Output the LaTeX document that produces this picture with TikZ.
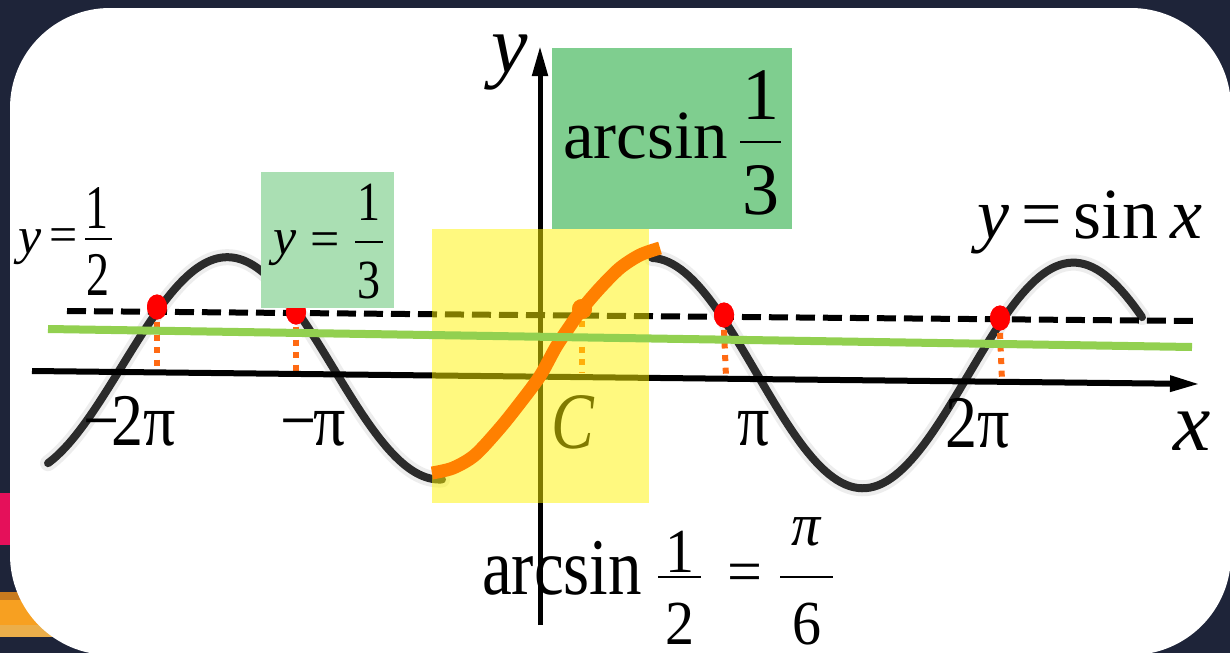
\documentclass[tikz,border=0pt]{standalone}
\usepackage{fontspec}
\setmainfont{Liberation Serif}
\usetikzlibrary{arrows.meta,shapes.geometric}
\definecolor{bgdark}{HTML}{1E2439}
\definecolor{gtop}{HTML}{7FCE8F}
\definecolor{glight}{HTML}{AADFB3}
\definecolor{hl}{HTML}{FFF500}
\definecolor{sinecol}{HTML}{2B2B2B}
\definecolor{orng}{HTML}{FF8000}
\definecolor{dotor}{HTML}{FF6A13}
\definecolor{lgreen}{HTML}{92D050}
\definecolor{pinkst}{HTML}{E5105A}
\definecolor{orA}{HTML}{C77A1E}
\definecolor{orB}{HTML}{F7A021}
\definecolor{orC}{HTML}{EBAE4A}
\newcommand\fs[1]{\fontsize{#1pt}{#1pt}\selectfont}
\newcommand\ys[2]{\scalebox{1}[#1]{#2}}
\begin{document}
\begin{tikzpicture}[x=0.5pt,y=-0.5pt,
  txt/.style={inner sep=0pt, outer sep=0pt},
  fracbar/.style={line width=1.4pt},
  sine/.style={sinecol, line width=4pt, line cap=round},
  sinehalo/.style={black!20, line width=8pt, opacity=0.35, line cap=round},
  halfdash/.style={line width=3pt, dash pattern=on 9.5pt off 4pt},
  vdots/.style={dotor, line width=3pt, dash pattern=on 3pt off 3.3pt},
  reddot/.style={ellipse, fill=red, minimum width=10pt, minimum height=12.5pt, inner sep=0pt},
  axis/.style={line width=3pt, -{Triangle[length=15pt,width=7.5pt]}}
]
\useasboundingbox (0,0) rectangle (1230,653);
% background
\fill[bgdark] (0,0) rectangle (1230,653);
\fill[pinkst] (0,493) rectangle (14,545);
\fill[orA] (0,592) rectangle (140,600);
\fill[orB] (0,600) rectangle (140,625);
\fill[orC] (0,625) rectangle (140,637);
\fill[white, rounded corners=50pt] (10,8) rectangle (1231,655);

% sine curve
\draw[sinehalo] plot[domain=48:442, samples=120] (\x, {365+0.01115*(\x-32)-110*sin(0.85106*(\x-545))});
\draw[sinehalo] plot[domain=652:1142, samples=120] (\x, {365+0.01115*(\x-32)-114*sin(0.85106*(\x-545))});
\draw[sine] plot[domain=48:442, samples=120] (\x, {365+0.01115*(\x-32)-110*sin(0.85106*(\x-545))});
\draw[sine] plot[domain=652:1142, samples=120] (\x, {365+0.01115*(\x-32)-114*sin(0.85106*(\x-545))});

% dashed line y = 1/2
\coordinate (hl) at (67,311);
\coordinate (hr) at (1195,321);
\draw[halfdash] (hl) -- (hr);

% axis foot coordinates
\coordinate (a1) at (157,370);
\coordinate (a2) at (296,372);
\coordinate (a3) at (726,377);
\coordinate (a4) at (1002,381);
\coordinate (a5) at (582,373);

% red dots
\node[reddot] (r1) at (157,307) {};
\node[reddot] (r2) at (296,312) {};
\node[reddot] (r3) at (724,315) {};
\node[reddot] (r4) at (1000,318) {};
\draw[vdots] ([yshift=-1pt]r1.south) -- (a1);
\draw[vdots] ([yshift=-1pt]r2.south) -- (a2);
\draw[vdots] ([yshift=-1pt]r3.south) -- (a3);
\draw[vdots] ([yshift=-1pt]r4.south) -- (a4);
\node[reddot] at (157,307) {};
\node[reddot] at (296,312) {};
\node[reddot] at (724,315) {};
\node[reddot] at (1000,318) {};

% axes
\coordinate (xs) at (32,371);
\coordinate (xe) at (1200,384);
\coordinate (ys0) at (540,625);
\coordinate (ye) at (540,46);
\draw[axis] (xs) -- (xe);
\draw[axis, line width=2.5pt] (ys0) -- (ye);

% C label and its dotted line (under the highlight)
\node[circle, fill=orng, minimum size=10pt, inner sep=0pt] (od) at (582,309) {};
\draw[vdots] ([yshift=-1pt]od.south) -- (a5);
\node[txt, anchor=base] (clab) at (573,448) {\ys{1.25}{\fs{32}\itshape C}};

% yellow highlight
\node[fill=hl, fill opacity=0.5, minimum width=108.5pt, minimum height=137pt, inner sep=0pt] (yel) at (540.5,366) {};

% orange curve
\draw[orng, line width=6.5pt] plot[smooth] coordinates {(432,473) (453,468) (475,455) (500,428) (520,403) (540,376) (556,347) (570,326) (582,309) (600,288) (620,268) (640,255) (660,248)};
\node[circle, fill=orng, minimum size=10pt, inner sep=0pt] (od2) at (582,309) {};

% green line
\coordinate (gl) at (48,329);
\coordinate (gr) at (1192,347);
\draw[lgreen, line width=4pt] (gl) -- (gr);

% green boxes
\node[fill=gtop, minimum width=120pt, minimum height=90.5pt, inner sep=0pt] (box1) at (672,138.5) {};
\node[fill=glight, minimum width=66.5pt, minimum height=68pt, inner sep=0pt] (box2) at (327.5,240) {};

% arcsin 1/3
\node[txt, anchor=base west] (arc1) at (563,158) {\fs{34.5}arcsin};
\node[txt] (n1) at (761,95) {\fs{37}1};
\node[txt] (d1) at (761,190) {\fs{37}3};
\draw[fracbar] (740,142) -- (781,142);

% y = 1/3
\node[txt] (yt) at (285,248) {\fs{26}\itshape y};
\node[txt] (eqt) at (325,245) {\fs{26}=};
\draw[fracbar] (355,242) -- (383,242);
\node[txt] (nt) at (369,202) {\ys{1.2}{\fs{23}1}};
\node[txt] (dt) at (369,280) {\ys{1.2}{\fs{23}3}};

% y = 1/2
\node[txt] (yh) at (30,247) {\fs{26}\itshape y};
\node[txt] (eqh) at (64,240) {\fs{25}=};
\draw[fracbar] (85,239) -- (112,239);
\node[txt] (nh) at (97,208) {\ys{1.35}{\fs{23}1}};
\node[txt] (dh) at (98,275) {\ys{1.35}{\fs{23}2}};

% y = sin x
\node[txt, anchor=base east] (eqsin) at (1202,238) {\fs{36}\textit{y}\,=\,sin\,\textit{x}};

% axis labels
\node[txt] (ylab) at (510,63) {\fs{41}\itshape y};
\node[txt, anchor=base] (xlab) at (1192,450) {\fs{42}\itshape x};

% tick labels
\node[txt, anchor=base] (t1) at (130,445) {\ys{1.16}{\fs{32}−\kern-0.13em 2π}};
\node[txt, anchor=base] (t2) at (313,445) {\ys{1.16}{\fs{32}−\kern-0.05em π}};
\node[txt, anchor=base] (t3) at (754,445) {\ys{1.16}{\fs{32}π}};
\node[txt, anchor=base] (t4) at (978,447) {\ys{1.16}{\fs{32}2π}};

% arcsin 1/2 = pi/6
\node[txt, anchor=base west] (arc2) at (482,594) {\ys{1.2}{\fs{33.5}arcsin}};
\node[txt] (n2) at (680,552) {\ys{1.08}{\fs{29}1}};
\node[txt] (d2) at (680,624) {\ys{1.08}{\fs{29}2}};
\draw[fracbar] (658,577) -- (701,577);
\node[txt] (eq2) at (745,578) {\fs{31}=};
\node[txt] (npi) at (806,532) {\ys{1.05}{\fs{29}\itshape π}};
\node[txt] (d6) at (807,624) {\ys{1.08}{\fs{29}6}};
\draw[fracbar] (780,577) -- (833,577);
\draw[line width=2.5pt] (540,503) -- (ys0);
\end{tikzpicture}
\end{document}
